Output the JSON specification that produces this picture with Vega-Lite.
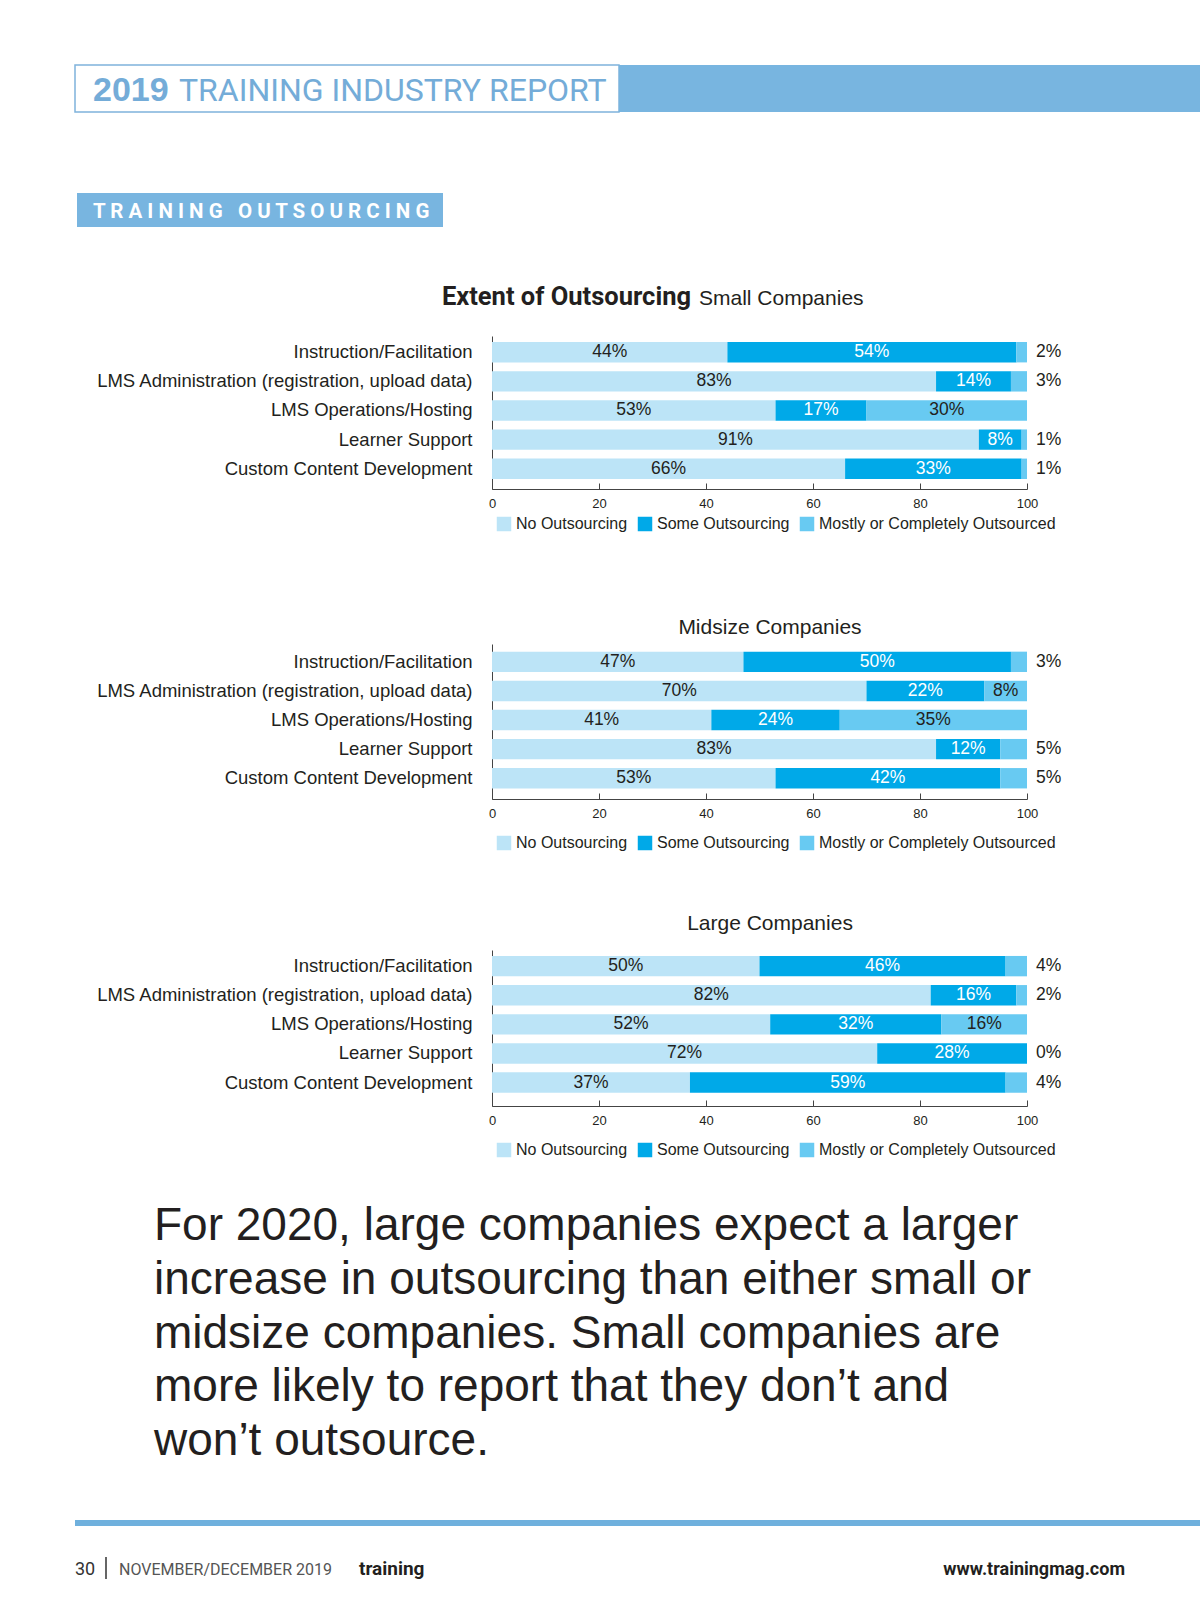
{
  "$schema": "https://vega.github.io/schema/vega-lite/v6.json",
  "width": 1200,
  "height": 1613,
  "autosize": "none",
  "padding": 0,
  "background": "white",
  "config": {"view": {"stroke": null}, "font": "Liberation Sans"},
  "datasets": {
    "outsourcing": [
      {"size": "Small", "task": "Instruction/Facilitation", "cat": "No Outsourcing", "seg": 1, "pct": 0.44},
      {"size": "Small", "task": "Instruction/Facilitation", "cat": "Some Outsourcing", "seg": 2, "pct": 0.54},
      {"size": "Small", "task": "Instruction/Facilitation", "cat": "Mostly or Completely Outsourced", "seg": 3, "pct": 0.02},
      {"size": "Small", "task": "LMS Administration (registration, upload data)", "cat": "No Outsourcing", "seg": 1, "pct": 0.83},
      {"size": "Small", "task": "LMS Administration (registration, upload data)", "cat": "Some Outsourcing", "seg": 2, "pct": 0.14},
      {"size": "Small", "task": "LMS Administration (registration, upload data)", "cat": "Mostly or Completely Outsourced", "seg": 3, "pct": 0.03},
      {"size": "Small", "task": "LMS Operations/Hosting", "cat": "No Outsourcing", "seg": 1, "pct": 0.53},
      {"size": "Small", "task": "LMS Operations/Hosting", "cat": "Some Outsourcing", "seg": 2, "pct": 0.17},
      {"size": "Small", "task": "LMS Operations/Hosting", "cat": "Mostly or Completely Outsourced", "seg": 3, "pct": 0.30},
      {"size": "Small", "task": "Learner Support", "cat": "No Outsourcing", "seg": 1, "pct": 0.91},
      {"size": "Small", "task": "Learner Support", "cat": "Some Outsourcing", "seg": 2, "pct": 0.08},
      {"size": "Small", "task": "Learner Support", "cat": "Mostly or Completely Outsourced", "seg": 3, "pct": 0.01},
      {"size": "Small", "task": "Custom Content Development", "cat": "No Outsourcing", "seg": 1, "pct": 0.66},
      {"size": "Small", "task": "Custom Content Development", "cat": "Some Outsourcing", "seg": 2, "pct": 0.33},
      {"size": "Small", "task": "Custom Content Development", "cat": "Mostly or Completely Outsourced", "seg": 3, "pct": 0.01},
      {"size": "Midsize", "task": "Instruction/Facilitation", "cat": "No Outsourcing", "seg": 1, "pct": 0.47},
      {"size": "Midsize", "task": "Instruction/Facilitation", "cat": "Some Outsourcing", "seg": 2, "pct": 0.50},
      {"size": "Midsize", "task": "Instruction/Facilitation", "cat": "Mostly or Completely Outsourced", "seg": 3, "pct": 0.03},
      {"size": "Midsize", "task": "LMS Administration (registration, upload data)", "cat": "No Outsourcing", "seg": 1, "pct": 0.70},
      {"size": "Midsize", "task": "LMS Administration (registration, upload data)", "cat": "Some Outsourcing", "seg": 2, "pct": 0.22},
      {"size": "Midsize", "task": "LMS Administration (registration, upload data)", "cat": "Mostly or Completely Outsourced", "seg": 3, "pct": 0.08},
      {"size": "Midsize", "task": "LMS Operations/Hosting", "cat": "No Outsourcing", "seg": 1, "pct": 0.41},
      {"size": "Midsize", "task": "LMS Operations/Hosting", "cat": "Some Outsourcing", "seg": 2, "pct": 0.24},
      {"size": "Midsize", "task": "LMS Operations/Hosting", "cat": "Mostly or Completely Outsourced", "seg": 3, "pct": 0.35},
      {"size": "Midsize", "task": "Learner Support", "cat": "No Outsourcing", "seg": 1, "pct": 0.83},
      {"size": "Midsize", "task": "Learner Support", "cat": "Some Outsourcing", "seg": 2, "pct": 0.12},
      {"size": "Midsize", "task": "Learner Support", "cat": "Mostly or Completely Outsourced", "seg": 3, "pct": 0.05},
      {"size": "Midsize", "task": "Custom Content Development", "cat": "No Outsourcing", "seg": 1, "pct": 0.53},
      {"size": "Midsize", "task": "Custom Content Development", "cat": "Some Outsourcing", "seg": 2, "pct": 0.42},
      {"size": "Midsize", "task": "Custom Content Development", "cat": "Mostly or Completely Outsourced", "seg": 3, "pct": 0.05},
      {"size": "Large", "task": "Instruction/Facilitation", "cat": "No Outsourcing", "seg": 1, "pct": 0.50},
      {"size": "Large", "task": "Instruction/Facilitation", "cat": "Some Outsourcing", "seg": 2, "pct": 0.46},
      {"size": "Large", "task": "Instruction/Facilitation", "cat": "Mostly or Completely Outsourced", "seg": 3, "pct": 0.04},
      {"size": "Large", "task": "LMS Administration (registration, upload data)", "cat": "No Outsourcing", "seg": 1, "pct": 0.82},
      {"size": "Large", "task": "LMS Administration (registration, upload data)", "cat": "Some Outsourcing", "seg": 2, "pct": 0.16},
      {"size": "Large", "task": "LMS Administration (registration, upload data)", "cat": "Mostly or Completely Outsourced", "seg": 3, "pct": 0.02},
      {"size": "Large", "task": "LMS Operations/Hosting", "cat": "No Outsourcing", "seg": 1, "pct": 0.52},
      {"size": "Large", "task": "LMS Operations/Hosting", "cat": "Some Outsourcing", "seg": 2, "pct": 0.32},
      {"size": "Large", "task": "LMS Operations/Hosting", "cat": "Mostly or Completely Outsourced", "seg": 3, "pct": 0.16},
      {"size": "Large", "task": "Learner Support", "cat": "No Outsourcing", "seg": 1, "pct": 0.72},
      {"size": "Large", "task": "Learner Support", "cat": "Some Outsourcing", "seg": 2, "pct": 0.28},
      {"size": "Large", "task": "Learner Support", "cat": "Mostly or Completely Outsourced", "seg": 3, "pct": 0.00},
      {"size": "Large", "task": "Custom Content Development", "cat": "No Outsourcing", "seg": 1, "pct": 0.37},
      {"size": "Large", "task": "Custom Content Development", "cat": "Some Outsourcing", "seg": 2, "pct": 0.59},
      {"size": "Large", "task": "Custom Content Development", "cat": "Mostly or Completely Outsourced", "seg": 3, "pct": 0.04}
    ]
  },
  "layer": [
    {"data": {"values": [{}]}, "mark": {"type": "rect", "fill": "#ffffff", "stroke": "#7fb3dc", "strokeWidth": 1.5},
     "encoding": {"x": {"value": 75}, "x2": {"value": 619}, "y": {"value": 65}, "y2": {"value": 112}}},
    {"data": {"values": [{}]}, "mark": {"type": "rect", "fill": "#78b5e0"},
     "encoding": {"x": {"value": 619}, "x2": {"value": 1200}, "y": {"value": 65}, "y2": {"value": 112}}},
    {"data": {"values": [{}]}, "mark": {"type": "text", "text": "2019", "fontWeight": "bold", "fontSize": 34, "color": "#74acd8", "align": "left", "baseline": "alphabetic"},
     "encoding": {"x": {"value": 93}, "y": {"value": 101}}},
    {"data": {"values": [{}]}, "mark": {"type": "text", "text": "TRAINING INDUSTRY REPORT", "font": "Roboto", "fontSize": 32, "color": "#74acd8", "align": "left", "baseline": "alphabetic"},
     "encoding": {"x": {"value": 179}, "y": {"value": 101}}},
    {"data": {"values": [{}]}, "mark": {"type": "rect", "fill": "#78b5e0"},
     "encoding": {"x": {"value": 77}, "x2": {"value": 443}, "y": {"value": 193}, "y2": {"value": 227}}},
    {"data": {"values": [{}]}, "mark": {"type": "text", "text": "T R A I N I N G \u00a0 O U T S O U R C I N G", "font": "Roboto", "fontWeight": "bold", "fontSize": 20.5, "color": "#ffffff", "align": "left", "baseline": "alphabetic"},
     "encoding": {"x": {"value": 93}, "y": {"value": 218}}},
    {"data": {"values": [{}]}, "mark": {"type": "text", "text": "Extent of Outsourcing", "font": "Roboto", "fontWeight": "bold", "fontSize": 25.5, "color": "#231f20", "align": "right", "baseline": "alphabetic"},
     "encoding": {"x": {"value": 691}, "y": {"value": 305}}},
    {"data": {"values": [{}]}, "mark": {"type": "text", "text": "Small Companies", "fontSize": 21, "color": "#231f20", "align": "left", "baseline": "alphabetic"},
     "encoding": {"x": {"value": 699}, "y": {"value": 305}}},
    {"data": {"values": [{}]}, "mark": {"type": "text", "text": "Midsize Companies", "fontSize": 21, "color": "#231f20", "align": "center", "baseline": "alphabetic"},
     "encoding": {"x": {"value": 770}, "y": {"value": 634}}},
    {"data": {"values": [{}]}, "mark": {"type": "text", "text": "Large Companies", "fontSize": 21, "color": "#231f20", "align": "center", "baseline": "alphabetic"},
     "encoding": {"x": {"value": 770}, "y": {"value": 930}}},
    {"data": {"values": [{}]}, "mark": {"type": "text", "text": ["For 2020, large companies expect a larger", "increase in outsourcing than either small or", "midsize companies. Small companies are", "more likely to report that they don\u2019t and", "won\u2019t outsource."], "fontSize": 46, "lineHeight": 53.8, "color": "#231f20", "align": "left", "baseline": "alphabetic"},
     "encoding": {"x": {"value": 154}, "y": {"value": 1240}}},
    {"data": {"values": [{}]}, "mark": {"type": "rect", "fill": "#6fb0dd"},
     "encoding": {"x": {"value": 75}, "x2": {"value": 1200}, "y": {"value": 1520}, "y2": {"value": 1526}}},
    {"data": {"values": [{}]}, "mark": {"type": "text", "text": "30", "font": "Roboto", "fontSize": 18, "color": "#333333", "align": "left", "baseline": "alphabetic"},
     "encoding": {"x": {"value": 75}, "y": {"value": 1575}}},
    {"data": {"values": [{}]}, "mark": {"type": "rule", "stroke": "#333333", "strokeWidth": 1.5},
     "encoding": {"x": {"value": 106}, "y": {"value": 1557}, "y2": {"value": 1579}}},
    {"data": {"values": [{}]}, "mark": {"type": "text", "text": "NOVEMBER/DECEMBER 2019", "font": "Roboto", "fontSize": 16, "color": "#555555", "align": "left", "baseline": "alphabetic"},
     "encoding": {"x": {"value": 119}, "y": {"value": 1575}}},
    {"data": {"values": [{}]}, "mark": {"type": "text", "text": "training", "font": "Roboto", "fontWeight": "bold", "fontSize": 19, "color": "#231f20", "align": "left", "baseline": "alphabetic"},
     "encoding": {"x": {"value": 359}, "y": {"value": 1575}}},
    {"data": {"values": [{}]}, "mark": {"type": "text", "text": "www.trainingmag.com", "font": "Roboto", "fontWeight": "bold", "fontSize": 18, "color": "#231f20", "align": "right", "baseline": "alphabetic"},
     "encoding": {"x": {"value": 1125}, "y": {"value": 1575}}},
    {
      "data": {"name": "outsourcing"},
      "transform": [{"filter": "datum.size === 'Small'"}],
      "encoding": {
        "y": {"field": "task", "type": "nominal",
          "sort": ["Instruction/Facilitation", "LMS Administration (registration, upload data)", "LMS Operations/Hosting", "Learner Support", "Custom Content Development"],
          "scale": {"range": [336, 489], "paddingInner": 0.3, "paddingOuter": 0.275, "align": 0.375},
          "axis": {"orient": "left", "offset": -492, "title": null, "ticks": false, "labelPadding": 20, "labelFontSize": 18.5, "labelColor": "#231f20", "domainColor": "#444444", "labelLimit": 600}},
        "x": {"field": "pct", "type": "quantitative", "stack": "zero", "title": null,
          "scale": {"domain": [0, 1], "range": [492, 1027], "nice": false},
          "axis": {"orient": "top", "offset": -489, "title": null, "values": [0, 0.2, 0.4, 0.6, 0.8, 1], "labelExpr": "round(datum.value*100)", "tickSize": 6, "tickColor": "#444444", "domainColor": "#444444", "labelFontSize": 13, "labelPadding": -14, "labelBaseline": "top", "labelFlush": false, "labelColor": "#231f20", "grid": false}}
      },
      "layer": [
        {"mark": {"type": "bar"},
         "encoding": {
           "color": {"field": "cat", "type": "nominal",
             "scale": {"domain": ["No Outsourcing", "Some Outsourcing", "Mostly or Completely Outsourced"], "range": ["#bce4f7", "#00a9e8", "#68caf2"]},
             "legend": {"orient": "none", "legendX": 496, "legendY": 516, "direction": "horizontal", "title": null, "symbolType": "square", "symbolSize": 210, "symbolStrokeWidth": 0, "symbolOpacity": 1, "labelFontSize": 16, "labelColor": "#231f20", "labelLimit": 0, "columnPadding": 9, "labelOffset": 4, "padding": 0}},
           "order": {"field": "seg"}
         }},
        {"transform": [{"filter": "!(datum.seg === 3 && datum.pct <= 0.05)"}],
         "mark": {"type": "text", "fontSize": 17.5, "baseline": "middle", "align": "center"},
         "encoding": {
           "x": {"field": "pct", "type": "quantitative", "stack": "zero", "bandPosition": 0.5, "title": null},
           "text": {"field": "pct", "type": "quantitative", "format": ".0%"},
           "color": {"condition": {"test": "datum.seg === 2", "value": "#ffffff"}, "value": "#231f20"},
           "order": {"field": "seg"}
         }},
        {"transform": [{"filter": "datum.seg === 3 && datum.pct <= 0.05"}],
         "mark": {"type": "text", "fontSize": 17.5, "baseline": "middle", "align": "left", "dx": 9, "color": "#231f20"},
         "encoding": {
           "x": {"datum": 1, "type": "quantitative", "title": null},
           "text": {"field": "pct", "type": "quantitative", "format": ".0%"}
         }}
      ]
    },
    {
      "data": {"name": "outsourcing"},
      "transform": [{"filter": "datum.size === 'Midsize'"}],
      "encoding": {
        "y": {"field": "task", "type": "nominal",
          "sort": ["Instruction/Facilitation", "LMS Administration (registration, upload data)", "LMS Operations/Hosting", "Learner Support", "Custom Content Development"],
          "scale": {"range": [644, 799], "paddingInner": 0.3, "paddingOuter": 0.313, "align": 0.42},
          "axis": {"orient": "left", "offset": -492, "title": null, "ticks": false, "labelPadding": 20, "labelFontSize": 18.5, "labelColor": "#231f20", "domainColor": "#444444", "labelLimit": 600}},
        "x": {"field": "pct", "type": "quantitative", "stack": "zero", "title": null,
          "scale": {"domain": [0, 1], "range": [492, 1027], "nice": false},
          "axis": {"orient": "top", "offset": -799, "title": null, "values": [0, 0.2, 0.4, 0.6, 0.8, 1], "labelExpr": "round(datum.value*100)", "tickSize": 6, "tickColor": "#444444", "domainColor": "#444444", "labelFontSize": 13, "labelPadding": -14, "labelBaseline": "top", "labelFlush": false, "labelColor": "#231f20", "grid": false}}
      },
      "layer": [
        {"mark": {"type": "bar"},
         "encoding": {
           "color": {"field": "cat", "type": "nominal",
             "scale": {"domain": ["No Outsourcing", "Some Outsourcing", "Mostly or Completely Outsourced"], "range": ["#bce4f7", "#00a9e8", "#68caf2"]},
             "legend": {"orient": "none", "legendX": 496, "legendY": 835, "direction": "horizontal", "title": null, "symbolType": "square", "symbolSize": 210, "symbolStrokeWidth": 0, "symbolOpacity": 1, "labelFontSize": 16, "labelColor": "#231f20", "labelLimit": 0, "columnPadding": 9, "labelOffset": 4, "padding": 0}},
           "order": {"field": "seg"}
         }},
        {"transform": [{"filter": "!(datum.seg === 3 && datum.pct <= 0.05)"}],
         "mark": {"type": "text", "fontSize": 17.5, "baseline": "middle", "align": "center"},
         "encoding": {
           "x": {"field": "pct", "type": "quantitative", "stack": "zero", "bandPosition": 0.5, "title": null},
           "text": {"field": "pct", "type": "quantitative", "format": ".0%"},
           "color": {"condition": {"test": "datum.seg === 2", "value": "#ffffff"}, "value": "#231f20"},
           "order": {"field": "seg"}
         }},
        {"transform": [{"filter": "datum.seg === 3 && datum.pct <= 0.05"}],
         "mark": {"type": "text", "fontSize": 17.5, "baseline": "middle", "align": "left", "dx": 9, "color": "#231f20"},
         "encoding": {
           "x": {"datum": 1, "type": "quantitative", "title": null},
           "text": {"field": "pct", "type": "quantitative", "format": ".0%"}
         }}
      ]
    },
    {
      "data": {"name": "outsourcing"},
      "transform": [{"filter": "datum.size === 'Large'"}],
      "encoding": {
        "y": {"field": "task", "type": "nominal",
          "sort": ["Instruction/Facilitation", "LMS Administration (registration, upload data)", "LMS Operations/Hosting", "Learner Support", "Custom Content Development"],
          "scale": {"range": [950, 1106], "paddingInner": 0.3, "paddingOuter": 0.33, "align": 0.31},
          "axis": {"orient": "left", "offset": -492, "title": null, "ticks": false, "labelPadding": 20, "labelFontSize": 18.5, "labelColor": "#231f20", "domainColor": "#444444", "labelLimit": 600}},
        "x": {"field": "pct", "type": "quantitative", "stack": "zero", "title": null,
          "scale": {"domain": [0, 1], "range": [492, 1027], "nice": false},
          "axis": {"orient": "top", "offset": -1106, "title": null, "values": [0, 0.2, 0.4, 0.6, 0.8, 1], "labelExpr": "round(datum.value*100)", "tickSize": 6, "tickColor": "#444444", "domainColor": "#444444", "labelFontSize": 13, "labelPadding": -14, "labelBaseline": "top", "labelFlush": false, "labelColor": "#231f20", "grid": false}}
      },
      "layer": [
        {"mark": {"type": "bar"},
         "encoding": {
           "color": {"field": "cat", "type": "nominal",
             "scale": {"domain": ["No Outsourcing", "Some Outsourcing", "Mostly or Completely Outsourced"], "range": ["#bce4f7", "#00a9e8", "#68caf2"]},
             "legend": {"orient": "none", "legendX": 496, "legendY": 1142, "direction": "horizontal", "title": null, "symbolType": "square", "symbolSize": 210, "symbolStrokeWidth": 0, "symbolOpacity": 1, "labelFontSize": 16, "labelColor": "#231f20", "labelLimit": 0, "columnPadding": 9, "labelOffset": 4, "padding": 0}},
           "order": {"field": "seg"}
         }},
        {"transform": [{"filter": "!(datum.seg === 3 && datum.pct <= 0.05)"}],
         "mark": {"type": "text", "fontSize": 17.5, "baseline": "middle", "align": "center"},
         "encoding": {
           "x": {"field": "pct", "type": "quantitative", "stack": "zero", "bandPosition": 0.5, "title": null},
           "text": {"field": "pct", "type": "quantitative", "format": ".0%"},
           "color": {"condition": {"test": "datum.seg === 2", "value": "#ffffff"}, "value": "#231f20"},
           "order": {"field": "seg"}
         }},
        {"transform": [{"filter": "datum.seg === 3 && datum.pct <= 0.05"}],
         "mark": {"type": "text", "fontSize": 17.5, "baseline": "middle", "align": "left", "dx": 9, "color": "#231f20"},
         "encoding": {
           "x": {"datum": 1, "type": "quantitative", "title": null},
           "text": {"field": "pct", "type": "quantitative", "format": ".0%"}
         }}
      ]
    }
  ],
  "resolve": {"scale": {"x": "independent", "y": "independent", "color": "independent"}}
}
